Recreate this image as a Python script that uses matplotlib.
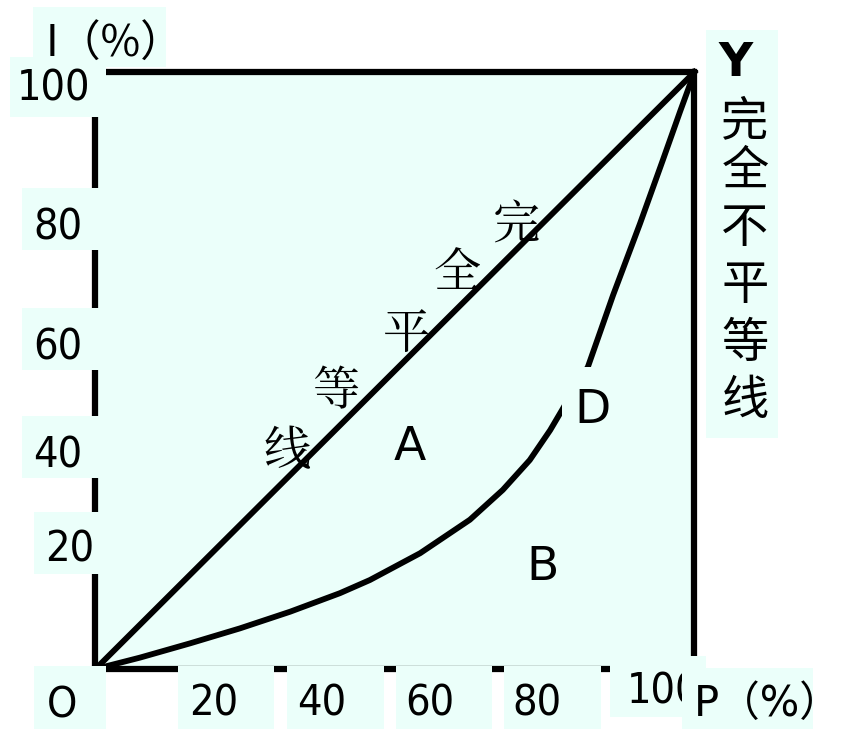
import matplotlib
matplotlib.use('Agg')
import matplotlib.pyplot as plt
from matplotlib.patches import Rectangle

# Lorenz curve (P = population %, I = income %)
curve_p = [0, 7.4, 15.8, 24.1, 32.5, 40.8, 45.8, 54.2, 62.5, 68.0, 72.5, 75.9, 77.9, 80.0, 82.2, 86.4, 90.9, 94.7, 97.6, 100]
curve_i = [0, 1.9, 4.3, 6.8, 9.6, 12.7, 14.9, 19.4, 25.0, 30.0, 35.0, 40.0, 43.4, 47.0, 50.6, 62.6, 74.6, 85.2, 93.4, 100]
equal_p = [0, 100]
equal_i = [0, 100]

x_labels = ['O', '20', '40', '60', '80']
y_labels = ['100', '80', '60', '40', '20']
x_end_label = '100'
x_title = 'P（%）'
y_title = 'I（%）'
region_labels = ['A', 'B', 'D']
equality_chars = ['完', '全', '平', '等', '线']
inequality_chars = ['完', '全', '不', '平', '等', '线']

# layout, in pixels of the 862x748 picture (origin top-left)
X0, Y0 = 95.5, 669.0
SX, SY = 5.99, 5.97
BG = '#ebfffa'
LW = 4.2

def px(x, y):
    return (x - X0) / SX, (Y0 - y) / SY

def box(ax, x1, y1, x2, y2, z=3):
    a, b = px(x1, y2)
    c, d = px(x2, y1)
    ax.add_patch(Rectangle((a, b), c - a, d - b, facecolor=BG, edgecolor='none', zorder=z))

def label(ax, x, y, s, z=4, **kw):
    xx, yy = px(x, y)
    ax.text(xx, yy, s, zorder=z, **kw)

fig = plt.figure(figsize=(8.62, 7.48), dpi=100)
ax = fig.add_axes([0, 0, 1, 1])
ax.set_xlim(px(0, 0)[0], px(862, 0)[0])
ax.set_ylim(px(0, 748)[1], px(0, 0)[1])
ax.axis('off')

ax.add_patch(Rectangle((0, 0), 100, 100, facecolor=BG, edgecolor='none', zorder=0))
ax.plot([0, 100, 100, 0, 0], [0, 0, 100, 100, 0], color='black', lw=LW + 0.3,
        solid_joinstyle='miter', zorder=1)
ax.plot(equal_p, equal_i, color='black', lw=LW, zorder=2)
ax.plot(curve_p, curve_i, color='black', lw=LW, zorder=2, solid_joinstyle='round')

digit = dict(fontsize=31, family='DejaVu Sans', fontstretch='condensed', ha='center', va='baseline')
cjk = ['Noto Sans CJK SC', 'DejaVu Sans']

# y axis labels
y_boxes = [(10, 57, 106, 117), (22, 188, 100, 250), (22, 308, 100, 370), (22, 416, 100, 478), (34, 512, 100, 574)]
y_pos = [(53.5, 101), (58, 240), (58, 359), (58, 468), (69.5, 561)]
for s, b, (x, y) in zip(y_labels, y_boxes, y_pos):
    box(ax, *b)
    label(ax, x, y, s, **digit)

# x axis labels
x_boxes = [(34, 666, 106, 729), (178, 666, 274, 729), (287, 666, 384, 729), (396, 666, 492, 729), (504, 666, 601, 729)]
x_pos = [(62, 717), (214, 716), (322, 716), (430, 716), (537, 716)]
for s, b, (x, y) in zip(x_labels, x_boxes, x_pos):
    box(ax, *b)
    label(ax, x, y, s, **digit)

box(ax, 610, 656, 706, 717, z=5)
label(ax, 627, 703, x_end_label, z=6, **dict(digit, ha='left'))
box(ax, 682, 668, 813, 729, z=7)
label(ax, 694, 716, x_title, z=8, fontsize=30, family=['DejaVu Sans', 'Noto Sans CJK SC'], va='baseline')

box(ax, 33, 7, 166, 67)
label(ax, 46, 57, y_title, fontsize=31, family=cjk, va='baseline')

# right side label
box(ax, 706, 30, 778, 438)
label(ax, 736, 76, 'Y', fontsize=34, fontweight='bold', family='DejaVu Sans', ha='center', va='baseline')
for ch, y in zip(inequality_chars, [122, 172, 229, 286, 344, 401]):
    label(ax, 745, y, ch, fontsize=34, family=cjk, ha='center', va='center')

# label along the diagonal
for ch, (x, y) in zip(equality_chars, [(516, 227), (457, 274), (406, 335), (337, 392), (287, 453)]):
    label(ax, x, y, ch, z=1.5, fontsize=34, family=['Noto Serif CJK SC'] + cjk, ha='center', va='center')

# region labels
box(ax, 562, 367, 622, 449)
for s, (x, y) in zip(region_labels, [(410, 460), (543, 580), (592.5, 423)]):
    label(ax, x, y, s, fontsize=34, family='DejaVu Sans', ha='center', va='baseline')

fig.savefig('out.png', dpi=100, facecolor='white')
